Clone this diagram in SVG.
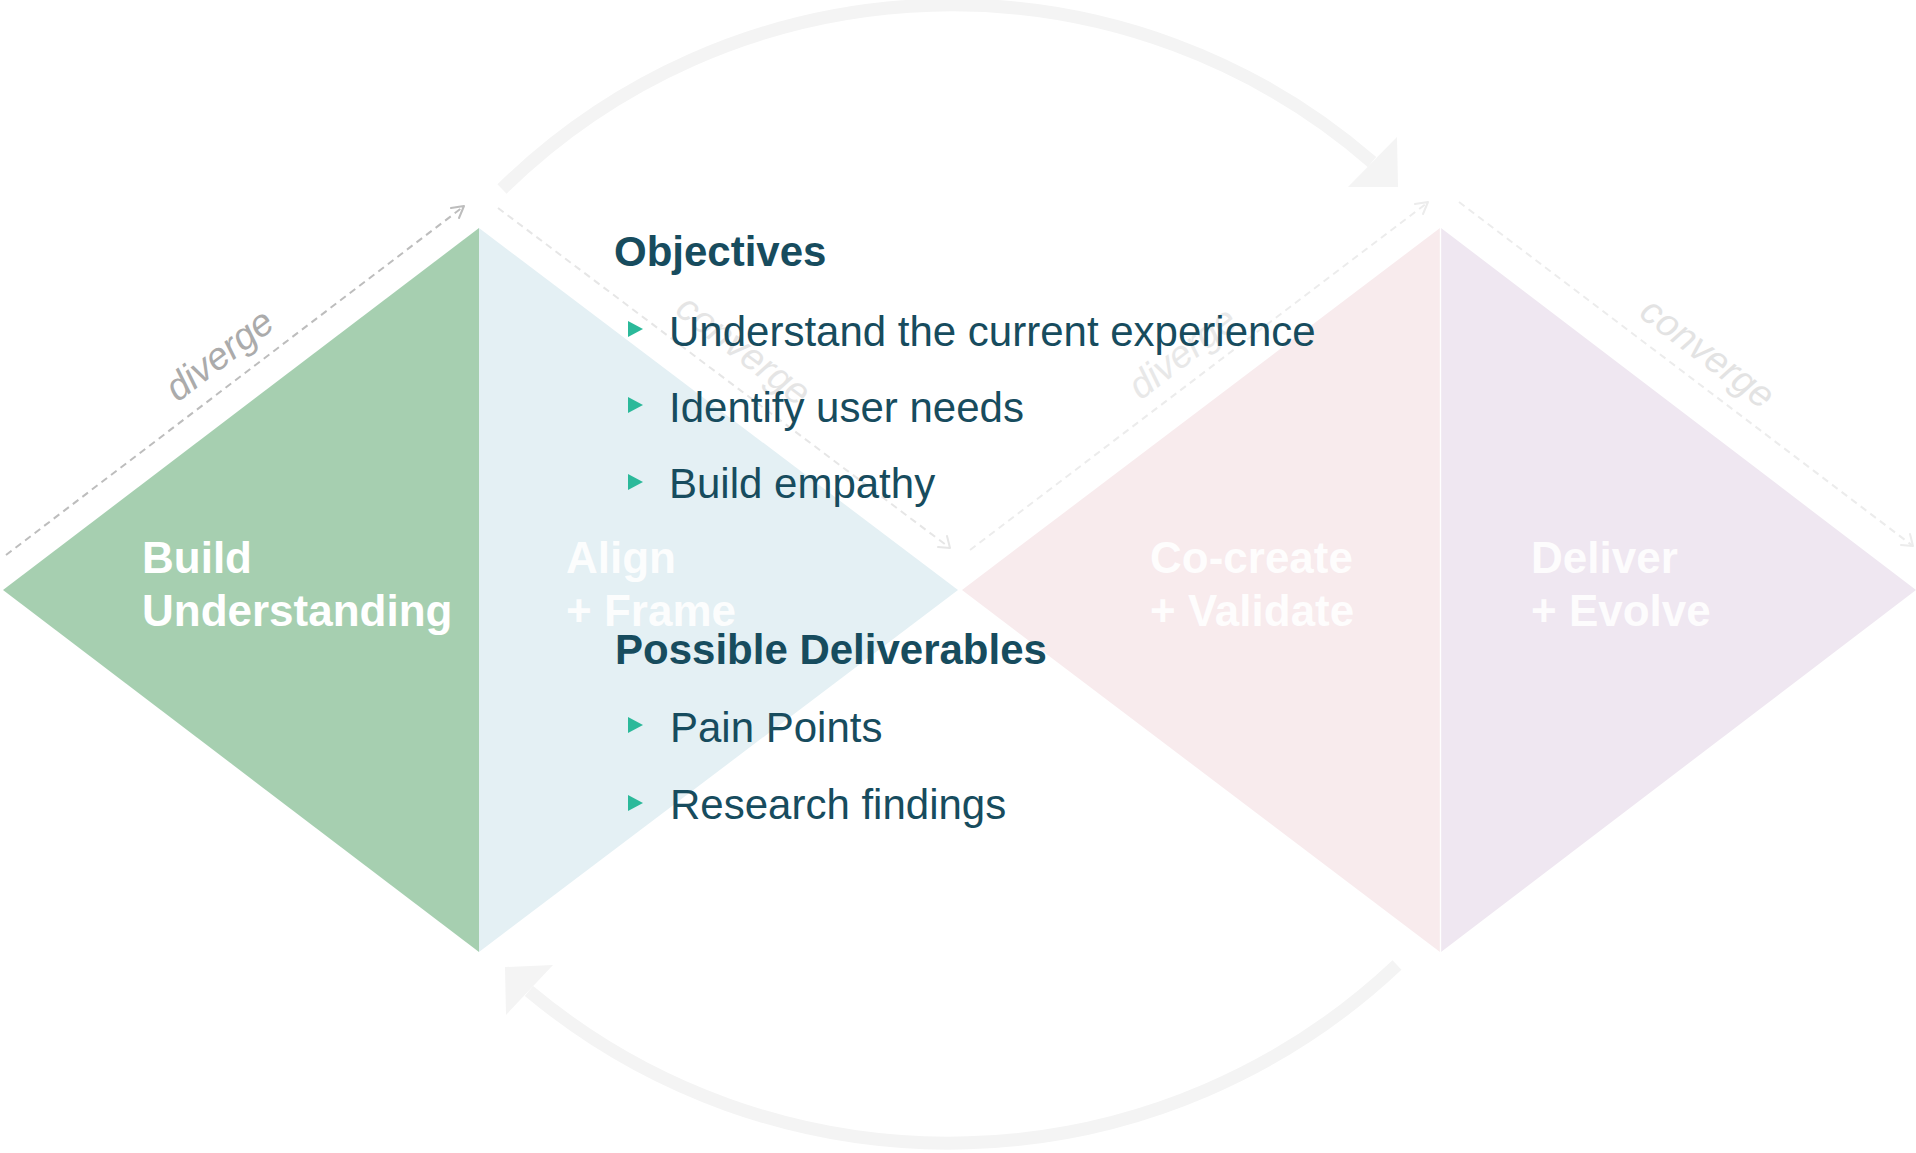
<svg xmlns="http://www.w3.org/2000/svg" width="1916" height="1153" viewBox="0 0 1916 1153">
<defs>
<style>
.lbl{font-family:"Liberation Sans",Arial,sans-serif;font-weight:bold;font-size:44px;fill:#ffffff}
.lblf{fill:#ffffff;opacity:0.9}
.dash{fill:none;stroke-width:2;stroke-dasharray:7 5}
.chev{fill:none;stroke-width:2;stroke-linecap:round;stroke-linejoin:round}
.side{font-family:"Liberation Sans",Arial,sans-serif;font-style:italic;font-size:38px}
.head{font-family:"Liberation Sans",Arial,sans-serif;font-weight:bold;font-size:42px;fill:#174c5e}
.item{font-family:"Liberation Sans",Arial,sans-serif;font-size:42px;fill:#174c5e}
.bul{fill:#2bb99a}
.arc{fill:none;stroke:#f4f4f4;stroke-width:13}
</style>
</defs>
<rect width="1916" height="1153" fill="#ffffff"/>

<g id="connectors">
<path class="arc" d="M 502 189 A 641 641 0 0 1 1372 162"/>
<polygon points="1397,137 1398,187 1348,187" fill="#f4f4f4"/>
<path class="arc" d="M 1397 965 A 654 654 0 0 1 529 991"/>
<polygon points="505,967 553,965 506,1015" fill="#f4f4f4"/>
</g>

<g id="node-build-understanding">
<polygon points="3,590 479,228 479,952" fill="#a6cfb0"/>
<text class="lbl" x="142" y="573">Build</text>
<text class="lbl" x="142" y="626">Understanding</text>
</g>
<g id="node-align-frame">
<polygon points="479,228 958,590 479,952" fill="#e4f0f4"/>
<text class="lbl lblf" x="566" y="573">Align</text>
<text class="lbl lblf" x="566" y="626">+ Frame</text>
</g>
<g id="node-co-create-validate">
<polygon points="962,590 1440,228 1440,952" fill="#f8ebed"/>
<text class="lbl lblf" x="1150" y="573">Co-create</text>
<text class="lbl lblf" x="1150" y="626">+ Validate</text>
</g>
<g id="node-deliver-evolve">
<polygon points="1441,228 1916,590 1441,952" fill="#efe7f1"/>
<line x1="1440.5" y1="228" x2="1440.5" y2="952" stroke="#ffffff" stroke-width="1.5" opacity="0.8"/>
<text class="lbl lblf" x="1531" y="573">Deliver</text>
<text class="lbl lblf" x="1531" y="626">+ Evolve</text>
</g>

<g id="phase-guides">
<line class="dash" x1="6" y1="555" x2="463" y2="207" stroke="#bdbdbd"/>
<polyline class="chev" points="451,208 464,206 459,218" stroke="#bdbdbd"/>
<text class="side" fill="#ababab" transform="translate(221,357) rotate(-37.3)" text-anchor="middle" dominant-baseline="middle">diverge</text>

<line class="dash" x1="498" y1="208" x2="950" y2="548" stroke="#e6e6e6"/>
<polyline class="chev" points="938,547 950,548 947,536" stroke="#e6e6e6"/>
<text class="side" fill="#e5e5e5" transform="translate(742,352) rotate(37.1)" text-anchor="middle" dominant-baseline="middle">converge</text>

<line class="dash" x1="970" y1="550" x2="1427" y2="203" stroke="#ececec"/>
<polyline class="chev" points="1415,204 1428,202 1423,214" stroke="#ececec"/>
<text class="side" fill="#e8e8e8" transform="translate(1184,355) rotate(-37.2)" text-anchor="middle" dominant-baseline="middle">diverge</text>

<line class="dash" x1="1459" y1="202" x2="1913" y2="546" stroke="#ececec"/>
<polyline class="chev" points="1901,545 1913,546 1910,534" stroke="#ececec"/>
<text class="side" fill="#e3e3e3" transform="translate(1706,355) rotate(37.1)" text-anchor="middle" dominant-baseline="middle">converge</text>
</g>

<g id="objectives">
<text class="head" x="614" y="266">Objectives</text>
<polygon class="bul" points="628,321 628,337 643,329"/>
<text class="item" x="669" y="346">Understand the current experience</text>
<polygon class="bul" points="628,397 628,413 643,405"/>
<text class="item" x="669" y="422">Identify user needs</text>
<polygon class="bul" points="628,474 628,490 643,482"/>
<text class="item" x="669" y="498">Build empathy</text>
</g>

<g id="deliverables">
<text class="head" x="615" y="664">Possible Deliverables</text>
<polygon class="bul" points="628,717 628,733 643,725"/>
<text class="item" x="670" y="742">Pain Points</text>
<polygon class="bul" points="628,795 628,811 643,803"/>
<text class="item" x="670" y="819">Research findings</text>
</g>
</svg>
